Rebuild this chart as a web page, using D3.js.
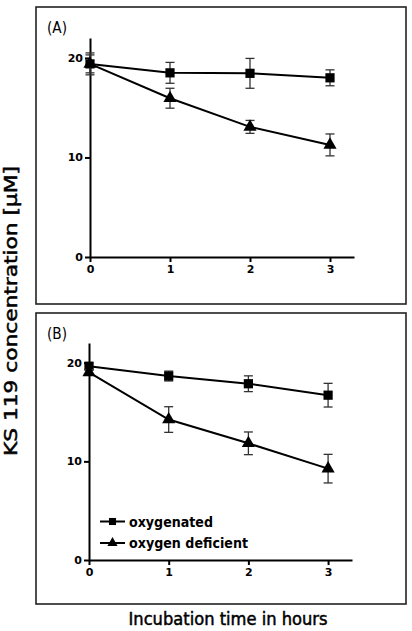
<!DOCTYPE html>
<html><head><meta charset="utf-8">
<script src="https://cdn.jsdelivr.net/npm/d3@7"></script>
<style>body{margin:0;background:#fff}svg{display:block}</style>
</head><body>
<svg id="c" width="412" height="631"></svg>
<script>
const hours = [0, 1, 2, 3];
const xTicks = [0, 1, 2, 3];
const yTicks = [0, 10, 20];
const seriesNames = ["oxygenated", "oxygen deficient"];
// Panel A
const aOxy = [19.4, 18.5, 18.45, 18.0];
const aOxyErr = [1.1, 1.05, 1.5, 0.8];
const aDef = [19.4, 15.95, 13.07, 11.26];
const aDefErr = [0.9, 1.0, 0.65, 1.1];
// Panel B
const bOxy = [19.65, 18.65, 17.87, 16.71];
const bOxyErr = [0.3, 0.5, 0.8, 1.2];
const bDef = [19.02, 14.24, 11.83, 9.26];
const bDefErr = [0.3, 1.3, 1.15, 1.45];

const svg = d3.select("#c");
const font = "'DejaVu Sans', sans-serif";

const panels = [
  {label: "(A)", box: [36, 7, 406, 304], xr: [90, 354], yr: [257, 38], oxy: aOxy, oxyE: aOxyErr, def: aDef, defE: aDefErr, legend: false},
  {label: "(B)", box: [36, 313, 406, 604], xr: [89, 352], yr: [560, 343], oxy: bOxy, oxyE: bOxyErr, def: bDef, defE: bDefErr, legend: true}
];

const sq = d3.symbol().type(d3.symbolSquare).size(85);
const tri = d3.symbol().type(d3.symbolTriangle).size(75);

panels.forEach(p => {
  const g = svg.append("g");
  g.append("rect").attr("x", p.box[0]).attr("y", p.box[1])
    .attr("width", p.box[2] - p.box[0]).attr("height", p.box[3] - p.box[1])
    .attr("fill", "none").attr("stroke", "#222").attr("stroke-width", 1.6);
  g.append("text").attr("x", p.box[0] + 11).attr("y", p.box[1] + 26)
    .attr("font-family", font).attr("font-size", 15)
    .attr("textLength", 20).attr("lengthAdjust", "spacingAndGlyphs").text(p.label);

  const x = d3.scaleLinear().domain([0, 3.3]).range(p.xr);
  const y = d3.scaleLinear().domain([0, 22]).range(p.yr);

  const xa = g.append("g").attr("transform", `translate(0,${p.yr[0]})`)
    .call(d3.axisBottom(x).tickValues(xTicks).tickFormat(d3.format("d")).tickSize(5).tickSizeOuter(0).tickPadding(3));
  const ya = g.append("g").attr("transform", `translate(${p.xr[0]},0)`)
    .call(d3.axisLeft(y).tickValues(yTicks).tickFormat(d3.format("d")).tickSize(5).tickSizeOuter(0).tickPadding(2));
  [xa, ya].forEach(a => {
    a.select(".domain").attr("stroke", "#000").attr("stroke-width", 2);
    a.selectAll(".tick line").attr("stroke", "#000").attr("stroke-width", 2);
    a.selectAll(".tick text").attr("font-family", font).attr("font-size", 11)
      .attr("font-weight", "bold").attr("fill", "#000");
  });

  const line = d3.line().x((d, i) => x(hours[i])).y(d => y(d));
  [[p.oxy, p.oxyE, sq], [p.def, p.defE, tri]].forEach(([vals, errs, sym]) => {
    const eg = g.append("g");
    vals.forEach((v, i) => {
      const cx = x(hours[i]);
      const y1 = y(v + errs[i]), y2 = y(v - errs[i]);
      eg.append("line").attr("x1", cx).attr("x2", cx).attr("y1", y1).attr("y2", y2)
        .attr("stroke", "#333").attr("stroke-width", 1.3);
      [y1, y2].forEach(yy => eg.append("line").attr("x1", cx - 4.5).attr("x2", cx + 4.5)
        .attr("y1", yy).attr("y2", yy).attr("stroke", "#333").attr("stroke-width", 1.3));
    });
    g.append("path").datum(vals).attr("d", line).attr("fill", "none")
      .attr("stroke", "#000").attr("stroke-width", 2);
    g.selectAll(null).data(vals).enter().append("path")
      .attr("d", sym).attr("transform", (d, i) => `translate(${x(hours[i])},${y(d)})`)
      .attr("fill", "#000");
  });

  if (p.legend) {
    const lg = g.append("g");
    [521.5, 543].forEach((ly, i) => {
      lg.append("line").attr("x1", 100).attr("x2", 125).attr("y1", ly).attr("y2", ly)
        .attr("stroke", "#000").attr("stroke-width", 2);
      lg.append("path").attr("d", d3.symbol().type(i ? d3.symbolTriangle : d3.symbolSquare).size(i ? 45 : 50)())
        .attr("transform", `translate(112.5,${ly})`).attr("fill", "#000");
      lg.append("text").attr("x", 129).attr("y", ly + 5).attr("font-family", font)
        .attr("font-size", 14).attr("font-weight", "bold")
        .attr("textLength", i ? 119 : 84).attr("lengthAdjust", "spacingAndGlyphs")
        .text(seriesNames[i]);
    });
  }
});

svg.append("text").attr("transform", "translate(17,311) rotate(-90)")
  .attr("text-anchor", "middle").attr("font-family", font).attr("font-size", 17)
  .attr("stroke", "#000").attr("stroke-width", 0.5)
  .attr("textLength", 290).attr("lengthAdjust", "spacingAndGlyphs")
  .text("KS 119 concentration [μM]");
svg.append("text").attr("x", 228).attr("y", 625)
  .attr("text-anchor", "middle").attr("font-family", font).attr("font-size", 17)
  .attr("stroke", "#000").attr("stroke-width", 0.5)
  .attr("textLength", 199).attr("lengthAdjust", "spacingAndGlyphs")
  .text("Incubation time in hours");
</script>
</body></html>
